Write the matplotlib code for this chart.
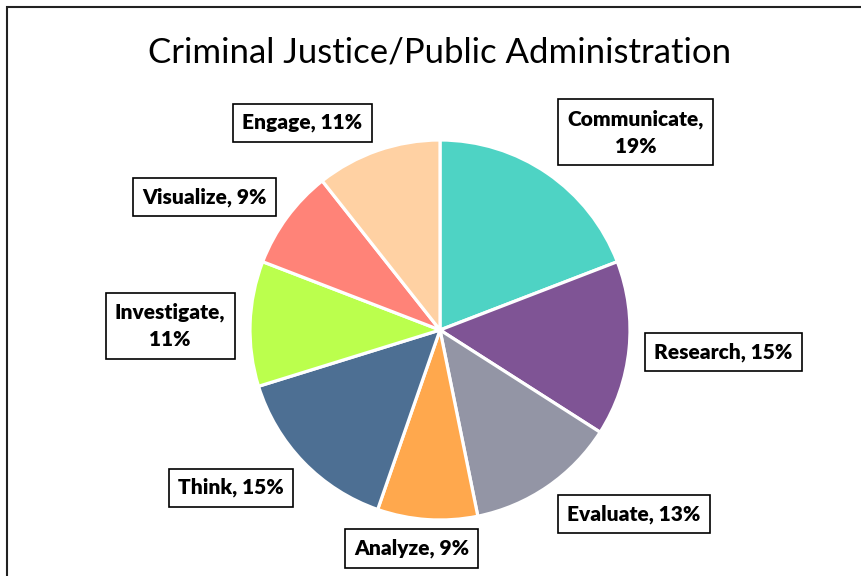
import numpy as np
import matplotlib.pyplot as plt
from matplotlib.patches import Rectangle

# Data (counts, total 47)
categories = ['Communicate', 'Research', 'Evaluate', 'Analyze', 'Think',
              'Investigate', 'Visualize', 'Engage']
counts = [9, 7, 6, 4, 7, 5, 4, 5]
colors = ['#4ED3C4', '#7F5495', '#9395A5', '#FFA84D', '#4D6F93',
          '#BBFF4D', '#FF8378', '#FFD1A3']

# label box centres (pie radius = 1)
label_pos = [(1.03, 1.04), (1.49, -0.115), (1.02, -0.97), (-0.15, -1.15),
             (-1.10, -0.83), (-1.42, 0.02), (-1.24, 0.70), (-0.725, 1.09)]
wrap = ['Communicate', 'Investigate']

W, H = 861, 576
cx, cy, R = 440, 330, 190

fig = plt.figure(figsize=(W / 100, H / 100), dpi=100)
ax = fig.add_axes([0, 0, 1, 1])

ax.pie(counts, colors=colors, startangle=90, counterclock=False,
       radius=1, center=(0, 0), frame=True,
       wedgeprops=dict(edgecolor='white', linewidth=2.3))
ax.set_xlim(-cx / R, (W - cx) / R)
ax.set_ylim(-(H - cy) / R, cy / R)
ax.set_aspect('auto')
ax.axis('off')

total = sum(counts)
for name, c, (x, y) in zip(categories, counts, label_pos):
    pct = int(np.floor(100 * c / total + 0.5))
    sep = ',\n' if name in wrap else ', '
    ax.text(x, y, f'{name}{sep}{pct}%', ha='center', va='center',
            fontsize=15, fontweight='heavy', family='Lato',
            linespacing=1.5,
            bbox=dict(boxstyle='square,pad=0.45', facecolor='white',
                      edgecolor='black', linewidth=1.2))

fig.text(440 / W, 1 - 52 / H, 'Criminal Justice/Public Administration',
         ha='center', va='center', fontsize=25, family='Lato')

# outer chart border
fig.patches.append(Rectangle((7 / W, -0.1), 1.2, 1 - 7 / H + 0.1,
                             transform=fig.transFigure, fill=False,
                             edgecolor='#222222', linewidth=1.5))

fig.savefig('out.png', dpi=100)
